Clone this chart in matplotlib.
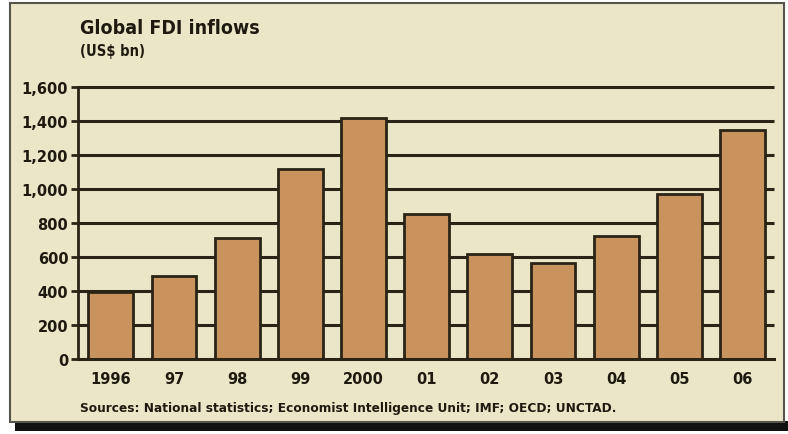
import matplotlib.pyplot as plt
from matplotlib.patches import Rectangle

years = ["1996", "97", "98", "99", "2000", "01", "02", "03", "04", "05", "06"]
inflows = [395, 490, 712, 1120, 1415, 855, 620, 563, 725, 970, 1345]
yticks = [0, 200, 400, 600, 800, 1000, 1200, 1400, 1600]
ytick_labels = ["0", "200", "400", "600", "800", "1,000", "1,200", "1,400", "1,600"]

W, H = 788, 435
bg = "#ECE6C9"
bar_col = "#C9935D"
ink = "#2A2416"

fig = plt.figure(figsize=(W / 100, H / 100), dpi=100)
fig.patch.set_facecolor("white")

# frame + drop shadow (kept behind the axes)
fig.patches.append(Rectangle((15 / W, 1 - 432 / H), 773 / W, 10 / H,
                             transform=fig.transFigure, facecolor="#111111",
                             edgecolor="none", zorder=-2))
fig.patches.append(Rectangle((10 / W, 1 - 423 / H), 774 / W, 419 / H,
                             transform=fig.transFigure, facecolor=bg,
                             edgecolor="#55554c", linewidth=1.5, zorder=-1))

ax = fig.add_axes([78 / W, 1 - 360 / H, (774 - 78) / W, (360 - 88) / H])
ax.patch.set_alpha(0)

x = list(range(len(years)))
ax.hlines(yticks[1:], -0.52, 10.5, colors=ink, linewidth=2.2, zorder=1, clip_on=False)
ax.bar(x, inflows, width=0.71, color=bar_col, edgecolor=ink, linewidth=2, zorder=2)

ax.set_xlim(-0.52, 10.5)
ax.set_ylim(0, 1600)
for s in ["top", "right"]:
    ax.spines[s].set_visible(False)
ax.spines["left"].set_color(ink)
ax.spines["left"].set_linewidth(2)
ax.spines["bottom"].set_color(ink)
ax.spines["bottom"].set_linewidth(2.2)
ax.spines["bottom"].set_zorder(3)

ax.set_yticks(yticks)
ax.set_yticklabels(ytick_labels)
ax.set_xticks(x)
ax.set_xticklabels(years)
ax.tick_params(axis="y", length=5, width=2, color=ink, pad=2)
ax.tick_params(axis="x", length=0, pad=9)
for lab in ax.get_yticklabels() + ax.get_xticklabels():
    lab.set_fontsize(10.5)
    lab.set_fontweight("bold")
    lab.set_color("#1e1a10")

fig.text(80 / W, 1 - 28 / H, "Global FDI inflows", fontsize=14, fontweight="bold",
         fontstretch="condensed", color="#1e1a10", va="center", ha="left")
fig.text(80 / W, 1 - 52 / H, "(US$ bn)", fontsize=10.5, fontweight="bold",
         fontstretch="condensed", color="#1e1a10", va="center", ha="left")
fig.text(80 / W, 1 - 409 / H,
         "Sources: National statistics; Economist Intelligence Unit; IMF; OECD; UNCTAD.",
         fontsize=9.7, fontweight="bold", fontstretch="condensed", color="#1e1a10",
         va="center", ha="left")

fig.savefig("out.png", dpi=100, facecolor=fig.get_facecolor())
